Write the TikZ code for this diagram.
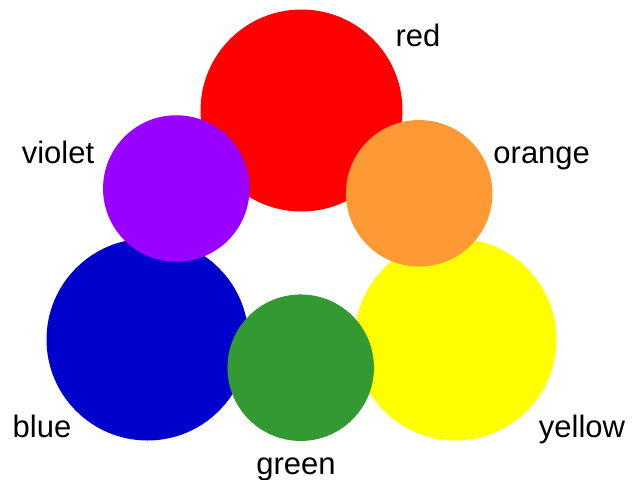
\documentclass[tikz,border=0pt]{standalone}
\usepackage{fontspec}
\setmainfont{Liberation Sans}
\usepackage{xcolor}
\usepackage{tikz}
\usetikzlibrary{shapes, positioning}

\definecolor{wheelred}{HTML}{FF0000}
\definecolor{wheelviolet}{HTML}{9900FF}
\definecolor{wheelorange}{HTML}{FF9933}
\definecolor{wheelblue}{HTML}{0000CC}
\definecolor{wheelyellow}{HTML}{FFFF00}
\definecolor{wheelgreen}{HTML}{339933}

\begin{document}
\begin{tikzpicture}[x=1pt, y=-1pt,
  primary/.style={circle, draw=none, inner sep=0pt, minimum size=202pt},
  secondary/.style={circle, draw=none, inner sep=0pt, minimum size=146.5pt},
  name label/.style={anchor=base, inner sep=0pt, font=\fontsize{31}{37}\selectfont}]
\useasboundingbox (0,0) rectangle (634,479);

% Primary colours (large discs)
\node[primary, fill=wheelred] (red) at (301.5,110.5) {};
\node[primary, fill=wheelblue] (blue) at (147.5,339.5) {};
\node[primary, fill=wheelyellow] (yellow) at (455.5,339.5) {};

% Secondary colours (small discs, on top)
\node[secondary, fill=wheelviolet] (violet) at (176.3,188.5) {};
\node[secondary, fill=wheelorange] (orange) at (419.2,193.3) {};
\node[secondary, fill=wheelgreen] (green) at (300.7,367.7) {};

% Names
\node[name label] (red name) at (418,46.7) {red};
\node[name label] (violet name) at (58,163.3) {violet};
\node[name label] (orange name) at (541.7,163.3) {orange};
\node[name label] (blue name) at (42,437.3) {blue};
\node[name label] (yellow name) at (582,437.3) {yellow};
\node[name label] (green name) at (296,474.5) {green};
\end{tikzpicture}
\end{document}
